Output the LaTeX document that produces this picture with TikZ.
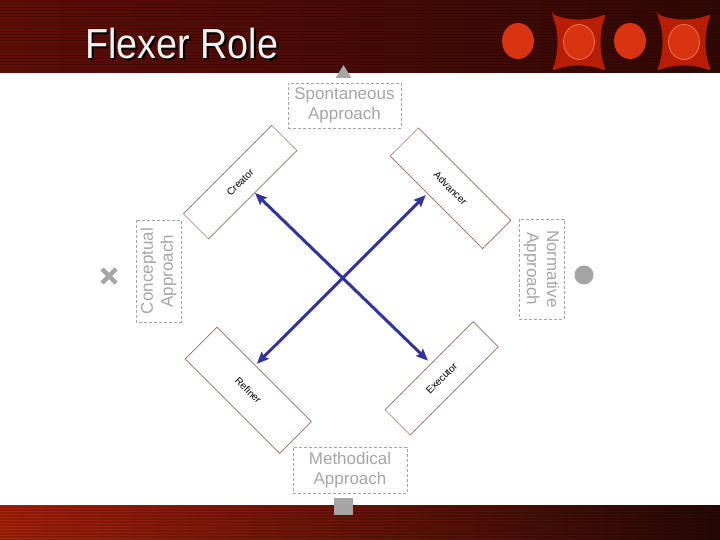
\documentclass[tikz,border=0pt]{standalone}
\usepackage{fontspec}
\setmainfont{Liberation Sans}
\usepackage{xcolor}
\usetikzlibrary{arrows.meta}
\definecolor{bandtopL}{RGB}{96,14,8}
\definecolor{bandtopR}{RGB}{50,8,5}
\definecolor{bandbotL}{RGB}{176,34,12}
\definecolor{bandbotR}{RGB}{42,9,6}
\definecolor{dotred}{RGB}{216,52,18}
\definecolor{crossred}{RGB}{184,30,4}
\definecolor{ringred}{RGB}{240,112,80}
\definecolor{flowblue}{RGB}{51,51,160}
\definecolor{approachgray}{RGB}{165,165,165}
\definecolor{boxbrown}{RGB}{140,70,55}

\begin{document}
\begin{tikzpicture}[x=1pt,y=-1pt]
\tikzstyle{role} = [rectangle, draw=boxbrown, line width=0.5pt, fill=white, text=black, font=\fontsize{10}{12}\selectfont, inner sep=1pt]
\tikzstyle{approach} = [rectangle, draw=approachgray, dash pattern=on 3pt off 2pt, line width=0.6pt, text=approachgray, align=center, font=\fontsize{17}{20}\selectfont, inner sep=0pt]
\tikzstyle{marker} = [fill=approachgray, draw=none]
\tikzstyle{flow} = [line width=3pt, draw=flowblue, {Stealth[length=12pt,width=10pt,inset=2pt]}-{Stealth[length=12pt,width=10pt,inset=2pt]}]
\tikzstyle{heading} = [anchor=base west, font=\fontsize{42}{42}\selectfont, xscale=0.9, inner sep=0pt]

\useasboundingbox (0,0) rectangle (720,540);

% Bands
\shade[left color=bandtopL, right color=bandtopR] (0,0) rectangle (720,73);
\shade[left color=bandbotL, right color=bandbotR] (0,505) rectangle (720,540);
\foreach \y in {1,4,...,72} \fill[black, opacity=0.2] (0,\y) rectangle (720,\y+1.5);
\foreach \y in {506,509,...,539} \fill[black, opacity=0.2] (0,\y) rectangle (720,\y+1.5);

% Title
\node (titleshadow) [heading, text=black] at (87,61) {Flexer Role};
\node (title) [heading, text=white!95!black] at (85,59) {Flexer Role};

% Ornaments
\foreach \cx in {518,630} \fill[dotred] (\cx,41) ellipse (16 and 18);
\foreach \cx in {579,684} {
  \fill[crossred, rounded corners=3pt] (\cx-27,14) .. controls (\cx-10,21) and (\cx+10,21) .. (\cx+27,14)
    .. controls (\cx+20,32) and (\cx+20,52) .. (\cx+27,71)
    .. controls (\cx+10,64) and (\cx-10,64) .. (\cx-27,71)
    .. controls (\cx-20,52) and (\cx-20,32) .. cycle;
  \draw[ringred, fill=dotred, line width=0.8pt] (\cx,42) ellipse (15.5 and 17.5);
}

% Markers
\fill[marker] (343.5,65) -- (351.5,78) -- (335.5,78) -- cycle;
\fill[marker] (334,498) rectangle (353,515);
\draw[approachgray, line width=4.5pt] (102,269) -- (116,283) (102,283) -- (116,269);
\fill[marker] (584,275) circle (9.5);

% Nodes
\node (spontaneous) [approach, minimum width=113pt, minimum height=45pt] at (344.5,105.5) {Spontaneous\\Approach};
\node (methodical) [approach, minimum width=114pt, minimum height=46pt] at (350,470) {Methodical\\Approach};
\node (conceptual) [approach, rotate=90, minimum width=102pt, minimum height=45pt] at (158.5,271) {Conceptual\\Approach};
\node (normative) [approach, rotate=-90, minimum width=100pt, minimum height=45pt] at (541.5,269) {Normative\\Approach};

\node (creator) [role, rotate=45, minimum width=125pt, minimum height=35.6pt] at (240.2,182.2) {Creator};
\node (advancer) [role, rotate=-45, minimum width=130.7pt, minimum height=40pt] at (450.5,188.3) {Advancer};
\node (refiner) [role, rotate=-45, minimum width=133.4pt, minimum height=45pt] at (248.3,390.3) {Refiner};
\node (executor) [role, rotate=45, minimum width=124.5pt, minimum height=35.8pt] at (441.7,378.3) {Executor};

% Arrows
\draw [flow, shorten >=4pt] ([shift={(2pt,2pt)}]creator.south) -- ([shift={(2pt,2pt)}]executor.north);
\draw [flow, shorten >=2pt, shorten <=2pt] ([shift={(-9pt,9pt)}]advancer.south) -- ([shift={(-9pt,9pt)}]refiner.north);

\end{tikzpicture}
\end{document}
